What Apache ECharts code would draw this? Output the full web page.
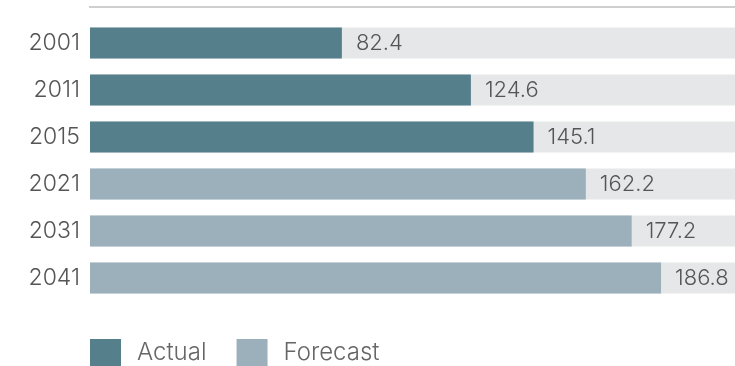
<!DOCTYPE html>
<html>
<head>
<meta charset="utf-8">
<script src="https://cdn.jsdelivr.net/npm/echarts@6/dist/echarts.min.js"></script>
<style>
  html, body { margin: 0; padding: 0; background: #fff; }
  #main { width: 735px; height: 366px; }
</style>
</head>
<body>
<div id="main"></div>
<script>
var years = ['2001', '2011', '2015', '2021', '2031', '2041'];
var actual = [82.4, 124.6, 145.1, '-', '-', '-'];
var forecast = ['-', '-', '-', 162.2, 177.2, 186.8];
var axisMax = 211;
var fullBar = years.map(function () { return axisMax; });

var myChart = echarts.init(document.getElementById('main'));

var FONT = 'Inter';

var labelStyle = {
    show: true,
    position: 'right',
    distance: 14,
    color: '#555',
    fontFamily: FONT,
    fontWeight: 300,
    fontSize: 22
};

var option = {
    animation: false,
    grid: { left: 90, right: 0, top: 19.5, bottom: 64.5 },
    xAxis: {
        type: 'value',
        min: 0,
        max: axisMax,
        show: false
    },
    yAxis: {
        type: 'category',
        data: years,
        inverse: true,
        axisLine: { show: false },
        axisTick: { show: false },
        axisLabel: { color: '#555', fontFamily: FONT, fontWeight: 300, fontSize: 23, margin: 10 }
    },
    legend: {
        left: 90,
        top: 339,
        padding: 0,
        itemWidth: 31,
        itemHeight: 28,
        itemGap: 30,
        icon: 'rect',
        data: ['Actual', 'Forecast'],
        textStyle: { color: '#666', fontFamily: FONT, fontWeight: 300, fontSize: 24, padding: [0, 0, 0, 11] }
    },
    graphic: [{
        type: 'line',
        shape: { x1: 89, y1: 7, x2: 735, y2: 7 },
        style: { stroke: '#cfcfcf', lineWidth: 2 }
    }],
    series: [
        {
            name: 'bg',
            type: 'bar',
            data: fullBar,
            barWidth: 31,
            barGap: '-100%',
            itemStyle: { color: '#e6e7e8' },
            silent: true,
            z: 1
        },
        {
            name: 'Actual',
            type: 'bar',
            stack: 'v',
            data: actual,
            barWidth: 31,
            barGap: '-100%',
            itemStyle: { color: '#557f8b' },
            label: labelStyle,
            z: 2
        },
        {
            name: 'Forecast',
            type: 'bar',
            stack: 'v',
            data: forecast,
            barWidth: 31,
            barGap: '-100%',
            itemStyle: { color: '#9bb0bb' },
            label: labelStyle,
            z: 2
        }
    ]
};

myChart.setOption(option);
</script>
</body>
</html>
